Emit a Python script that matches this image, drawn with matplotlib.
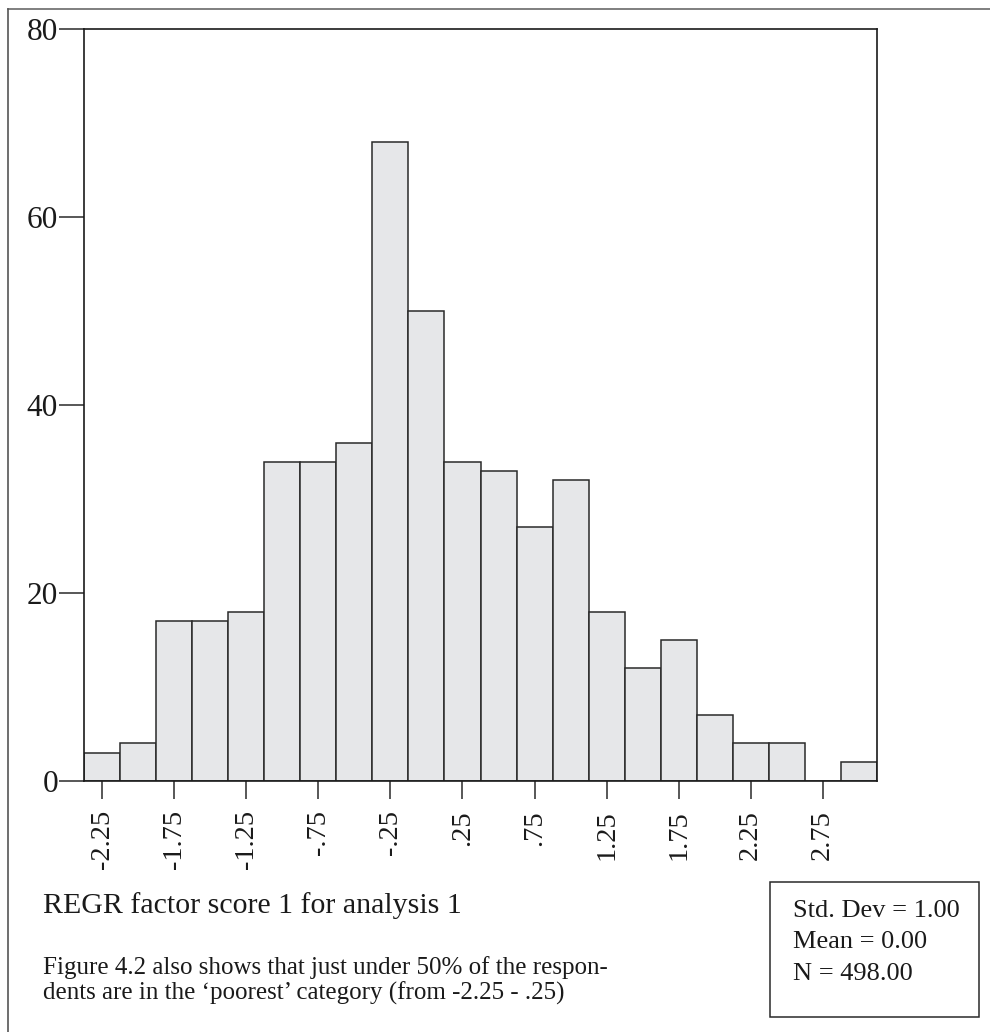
import matplotlib
matplotlib.use("Agg")
import matplotlib.pyplot as plt
from matplotlib.lines import Line2D
from matplotlib.patches import Rectangle

plt.rcParams['font.family'] = ['Liberation Serif', 'DejaVu Serif']

# ---- data ----
bin_centers = [-2.25, -2.0, -1.75, -1.5, -1.25, -1.0, -0.75, -0.5, -0.25, 0.0, 0.25,
               0.5, 0.75, 1.0, 1.25, 1.5, 1.75, 2.0, 2.25, 2.5, 2.75, 3.0]
counts = [3, 4, 17, 17, 18, 34, 34, 36, 68, 50, 34,
          33, 27, 32, 18, 12, 15, 7, 4, 4, 0, 2]
bin_width = 0.25
xtick_values = [-2.25, -1.75, -1.25, -0.75, -0.25, 0.25, 0.75, 1.25, 1.75, 2.25, 2.75]
xtick_labels = ["-2.25", "-1.75", "-1.25", "-.75", "-.25", ".25", ".75",
                "1.25", "1.75", "2.25", "2.75"]
ytick_values = [0, 20, 40, 60, 80]
xlabel_text = "REGR factor score 1 for analysis 1"
stats_lines = ["Std. Dev = 1.00", "Mean = 0.00", "N = 498.00"]
caption_lines = ["Figure 4.2 also shows that just under 50% of the respon-",
                 "dents are in the \u2018poorest\u2019 category (from -2.25 - .25)"]

W, H = 990, 1032
fig = plt.figure(figsize=(W / 100, H / 100), dpi=100)
fig.patch.set_facecolor('white')

def fx(px):
    return px / W

def fy(py):
    return 1 - py / H

# axes placement
left, right, top, bottom = 84.3, 876.7, 29.3, 781.0
ax = fig.add_axes([fx(left), fy(bottom), fx(right) - fx(left), fy(top) - fy(bottom)])

ax.bar(bin_centers, counts, width=bin_width, align='center',
       color='#e6e7e9', edgecolor='#2a2a2a', linewidth=1.1, zorder=2)

ax.set_xlim(-2.375, 3.125)
ax.set_ylim(0, 80)

ax.set_yticks(ytick_values)
ax.set_yticklabels([str(v) for v in ytick_values], fontsize=22.5, color='#1a1a1a')
ax.set_xticks(xtick_values)
ax.set_xticklabels(xtick_labels, rotation=90, fontsize=20.5, color='#1a1a1a')

ax.tick_params(axis='y', length=18, width=1.1, pad=1, color='#2a2a2a')
ax.tick_params(axis='x', length=13, width=1.1, pad=8, color='#2a2a2a')

for sp in ax.spines.values():
    sp.set_linewidth(1.2)
    sp.set_color('#1a1a1a')

# axis title (below)
fig.text(fx(42.7), fy(912.7), xlabel_text, fontsize=21.5, va='baseline', ha='left',
         color='#1a1a1a')

# caption
cap_baselines = [974.3, 999.3]
for line, yb in zip(caption_lines, cap_baselines):
    fig.text(fx(42.7), fy(yb), line, fontsize=18, va='baseline', ha='left',
             color='#1a1a1a')

# stats box
bx0, by0, bx1, by1 = 770.0, 881.7, 979.0, 1016.7
fig.add_artist(Rectangle((fx(bx0), fy(by1)), fx(bx1) - fx(bx0), fy(by0) - fy(by1),
                         transform=fig.transFigure, fill=False,
                         edgecolor='#2a2a2a', linewidth=1.1))
stat_baselines = [916.7, 948.3, 980.0]
for line, yb in zip(stats_lines, stat_baselines):
    fig.text(fx(793), fy(yb), line, fontsize=19, va='baseline', ha='left',
             color='#1a1a1a')

# page border lines (top and left)
fig.add_artist(Line2D([fx(8), fx(990)], [fy(9), fy(9)], transform=fig.transFigure,
                      color='#6a6a6a', linewidth=1.2))
fig.add_artist(Line2D([fx(8), fx(8)], [fy(9), fy(1032)], transform=fig.transFigure,
                      color='#555555', linewidth=1.2))

fig.savefig("out.png", dpi=100)
